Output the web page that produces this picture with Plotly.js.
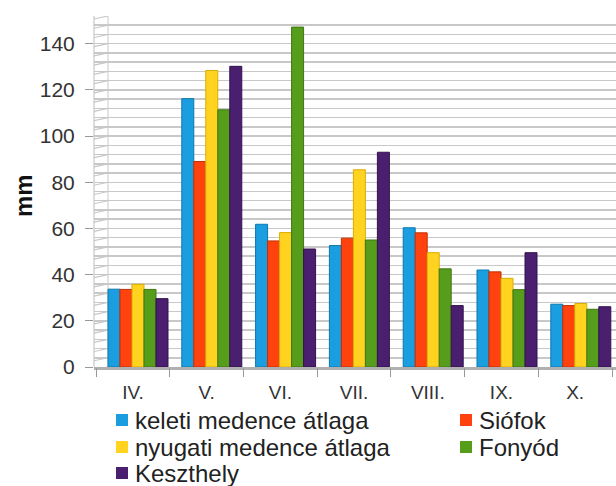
<!DOCTYPE html>
<html>
<head>
<meta charset="utf-8">
<script src="https://cdn.plot.ly/plotly-3.0.1.min.js"></script>
<style>html,body{margin:0;padding:0;background:#fff;}#chart{width:616px;height:486px;}</style>
</head>
<body>
<div id="chart"></div>
<script>
const months = ["IV.", "V.", "VI.", "VII.", "VIII.", "IX.", "X."];
const keleti = [33.7, 116.2, 61.8, 52.6, 60.3, 42.0, 27.2];
const siofok = [33.6, 89.0, 54.6, 55.8, 58.1, 41.2, 26.6];
const nyugati = [35.8, 128.4, 58.2, 85.4, 49.5, 38.4, 27.5];
const fonyod = [33.6, 111.4, 147.2, 55.0, 42.5, 33.5, 25.0];
const keszthely = [29.6, 130.2, 51.1, 93.0, 26.6, 49.5, 26.1];
const seriesNames = ["keleti medence átlaga", "Siófok", "nyugati medence átlaga", "Fonyód", "Keszthely"];
const seriesValues = [keleti, siofok, nyugati, fonyod, keszthely];
const colors = ["#1a9ee0", "#ff420e", "#ffd320", "#579d1c", "#4b1f6f"];
const edges = ["#0d78ad", "#c42f05", "#d9ad00", "#3f7612", "#33124f"];

const FONT = "Liberation Sans, Arial, sans-serif";
const L = 94, T = 16, W = 522, H = 351;
const px = x => (x - L) / W;
const py = y => (T + H - y) / H;

const traces = seriesNames.map((n, i) => ({
  type: "bar", name: n, x: months, y: seriesValues[i],
  marker: {color: colors[i], line: {color: edges[i], width: 1}},
  xaxis: "x", yaxis: "y", hoverinfo: "skip", showlegend: false
}));
traces.push({
  type: "scatter", x: months, y: months.map(() => 0), xaxis: "x2", yaxis: "y",
  mode: "none", showlegend: false, hoverinfo: "skip"
});

const wallW = 14 / W;
const shapes = [{type: "rect", xref: "paper", yref: "paper", x0: 0, x1: wallW, y0: 0, y1: 1,
  fillcolor: "#ffffff", line: {width: 0}, layer: "between"}];
for (let v = 0; v <= 152; v += 4) {
  shapes.push({type: "line", xref: "paper", yref: "y", x0: 0, x1: wallW, y0: v - 1.3, y1: v,
    line: {color: "#c8c8c8", width: 1.2}, layer: "between"});
}
shapes.push({type: "line", xref: "paper", yref: "paper", x0: 0, x1: 0, y0: 0, y1: 1,
  line: {color: "#bdbdbd", width: 1}, layer: "between"});
shapes.push({type: "line", xref: "paper", yref: "paper", x0: wallW, x1: wallW, y0: 0, y1: 1,
  line: {color: "#c8c8c8", width: 1}, layer: "between"});

// manual legend (two columns)
const legCols = [116, 460];
const legRows = [420, 447, 473];
const annotations = [];
seriesNames.forEach((n, i) => {
  const cx = legCols[i % 2], cy = legRows[Math.floor(i / 2)];
  shapes.push({type: "rect", xref: "paper", yref: "paper",
    x0: px(cx), x1: px(cx + 12), y0: py(cy + 6), y1: py(cy - 6),
    fillcolor: colors[i], line: {width: 0}, layer: "above"});
  annotations.push({xref: "paper", yref: "paper", x: px(cx + 17), y: py(cy), xanchor: "left", yanchor: "middle",
    text: n, showarrow: false, font: {family: FONT, size: 24, color: "#222"}});
});
annotations.push({xref: "paper", yref: "paper", x: px(24), y: py(196), xanchor: "center", yanchor: "middle",
  text: "<b>mm</b>", textangle: -90, showarrow: false, font: {family: FONT, size: 24, color: "#111"}});

const layout = {
  width: 616, height: 486,
  margin: {l: L, r: 0, t: T, b: 486 - T - H},
  paper_bgcolor: "#ffffff", plot_bgcolor: "#ffffff",
  font: {family: FONT, color: "#333333"},
  barmode: "group", bargap: 0.187, bargroupgap: 0,
  showlegend: false,
  xaxis: {type: "category", range: [-0.596, 6.477], showticklabels: false, ticks: "",
    showgrid: false, showline: true, linecolor: "#b0b0b0", linewidth: 3, zeroline: false, fixedrange: true},
  xaxis2: {type: "category", overlaying: "x", anchor: "y", side: "bottom", range: [-0.529, 6.554],
    tickson: "boundaries", ticks: "outside", ticklen: 9, tickcolor: "#999999", showgrid: false,
    showline: false, zeroline: false, tickfont: {size: 19, color: "#333"}, ticklabelstandoff: 12,
    fixedrange: true},
  yaxis: {range: [0, 152], tick0: 0, dtick: 20, ticks: "outside", ticklen: 8, tickcolor: "#999999",
    showgrid: true, gridcolor: "#c8c8c8", gridwidth: 1.5, zeroline: false, showline: false,
    tickfont: {size: 21, color: "#333"}, ticklabelstandoff: 6,
    minor: {dtick: 4, tick0: 0, showgrid: true, gridcolor: "#c8c8c8", gridwidth: 1.5, ticks: ""},
    fixedrange: true},
  shapes: shapes,
  annotations: annotations
};

Plotly.newPlot("chart", traces, layout, {displayModeBar: false, staticPlot: true});
</script>
</body>
</html>
